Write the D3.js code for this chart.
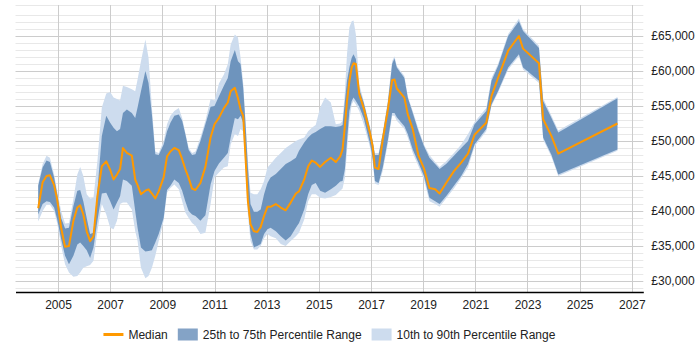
<!DOCTYPE html>
<html>
<head>
<meta charset="utf-8">
<script src="https://cdnjs.cloudflare.com/ajax/libs/d3/7.8.5/d3.min.js"></script>
<style>
	body { margin: 0; background: #fff; }
	text { font-family: "Liberation Sans", Arial, sans-serif; }
</style>
</head>
<body>
<script>
// decimal years of each sample
var years = [
	2004.24, 2004.41, 2004.56, 2004.69, 2004.85, 2004.97, 2005.12, 2005.27, 2005.42, 2005.59,
	2005.74, 2005.85, 2005.97, 2006.10, 2006.23, 2006.36, 2006.51, 2006.68, 2006.85, 2007.00,
	2007.13, 2007.26, 2007.38, 2007.49, 2007.64, 2007.83, 2007.96, 2008.05, 2008.18, 2008.35,
	2008.47, 2008.60, 2008.73, 2008.86, 2009.05, 2009.18, 2009.31, 2009.46, 2009.63, 2009.76,
	2009.88, 2010.01, 2010.14, 2010.27, 2010.46, 2010.65, 2010.85, 2011.00, 2011.17, 2011.36,
	2011.51, 2011.62, 2011.78, 2011.90,
	2012.00, 2012.10, 2012.19, 2012.28, 2012.38, 2012.51, 2012.64, 2012.77, 2012.90, 2013.03,
	2013.15, 2013.35, 2013.54, 2013.73, 2013.92, 2014.12, 2014.24, 2014.44, 2014.59, 2014.73,
	2014.88, 2015.05, 2015.24, 2015.46, 2015.65, 2015.82, 2015.91, 2016.00, 2016.08, 2016.17,
	2016.26, 2016.33, 2016.42, 2016.55, 2016.72, 2016.97, 2017.06, 2017.15, 2017.29, 2017.45,
	2017.64, 2017.81, 2017.90, 2017.99, 2018.28, 2018.41, 2018.60, 2018.82, 2019.03, 2019.24,
	2019.46, 2019.63, 2019.88, 2020.18, 2020.46, 2020.72,
	2020.97, 2021.42, 2021.62, 2021.87, 2022.26, 2022.67, 2022.83, 2023.44, 2023.60, 2023.92,
	2024.18, 2026.45
];

var median = [
	40400, 44100, 45000, 45100, 43700, 41600, 37600, 34900, 35000, 38600,
	40500, 40800, 39500, 37100, 35700, 36400, 42100, 46400, 47100, 45900,
	44500, 45200, 46000, 49000, 48300, 47900, 44500, 43700, 42400, 42900,
	43100, 42500, 41800, 42800, 44800, 47800, 48500, 49000, 48700, 47400,
	46000, 44700, 43200, 43000, 44000, 46300, 50500, 52400, 53300, 54700,
	55500, 57100, 57600, 56100,
	54500, 53600, 47600, 41400, 38100, 37100, 37000, 37700, 39300, 40600,
	40600, 41000, 40500, 40100, 41200, 42500, 42800, 44500, 46400, 47200,
	46900, 46300, 47000, 47600, 47000, 47800, 48800, 52200, 55700, 58500,
	60500, 61100, 61000, 56700, 54700, 51000, 49300, 46200, 46000, 50200,
	54300, 58700, 58800, 57500, 56200, 53800, 51700, 47900, 46100, 43300,
	43100, 42500, 44000, 45700, 46900, 48200,
	50900, 52600, 56400, 59000, 62900, 65000, 63200, 61100, 53100, 50700,
	48200, 52500
];

var p25 = [
	39500, 41000, 41400, 41300, 40500, 38800, 36000, 33600, 32400, 33600,
	35200, 35500, 35000, 34400, 33300, 34800, 38600, 42500, 42600, 41400,
	40200, 41200, 42100, 44500, 44300, 43600, 40000, 37600, 34800, 34200,
	34300, 34400, 35500, 36700, 39000, 43000, 43600, 44500, 44000, 42900,
	41400, 40000, 39500, 39300, 38600, 39400, 43800, 45700, 46800, 47600,
	48300, 50500, 53300, 53100,
	53600, 52600, 46900, 40900, 36700, 34800, 35000, 35300, 36700, 37400,
	37600, 37100, 36400, 35800, 36400, 37600, 38300, 40200, 42400, 43700,
	44000, 42900, 42600, 43100, 43600, 44200, 44300, 46000, 50000, 54300,
	55700, 56200, 55700, 54900, 53300, 49500, 47600, 44300, 44000, 46200,
	50000, 54000, 54000, 53400, 52100, 51000, 48800, 46900, 45000, 41900,
	41400, 41000, 42100, 43600, 45000, 46700,
	49500, 51700, 55200, 57100, 60500, 62400, 60500, 58600, 50500, 48000,
	45200, 48800
];

var p75 = [
	43600, 46200, 47200, 47000, 44800, 42400, 39000, 37500, 37600, 40700,
	42900, 43000, 41400, 39000, 36700, 36900, 42900, 50700, 53600, 52600,
	51900, 51400, 51700, 54000, 54500, 54000, 53300, 54800, 57100, 60000,
	58300, 53800, 48100, 48000, 49500, 51400, 52600, 53600, 53800, 52900,
	51000, 48700, 48000, 48100, 50000, 52400, 54900, 55000, 56400, 57900,
	59000, 61400, 63000, 61400,
	61000, 57600, 52400, 46200, 41000, 39900, 39900, 40200, 42400, 44000,
	44800, 45300, 46000, 46700, 47100, 47600, 48600, 49800, 50500, 51000,
	51300, 51700, 52100, 52100, 52000, 52100, 52300, 55700, 58600, 60500,
	61900, 62400, 61700, 57400, 55500, 51700, 50000, 48000, 48000, 51000,
	55200, 61000, 61800, 60500, 59000, 56200, 54000, 51400, 49300, 47600,
	46700, 46000, 46700, 47900, 49000, 50000,
	52400, 54300, 58600, 60700, 65000, 67100, 65700, 63300, 55700, 53300,
	51200, 56100
];

var p10 = [
	38500, 40000, 40900, 40900, 40000, 38200, 35000, 32400, 31200, 30600,
	30700, 31200, 31900, 32100, 32300, 32900, 37100, 41000, 39500, 37600,
	37400, 38600, 41000, 41200, 41200, 40200, 37100, 35700, 31900, 30400,
	30700, 31900, 33600, 35700, 38600, 42600, 43300, 43800, 43100, 41400,
	39800, 39000, 38300, 37900, 36700, 36900, 41000, 44800, 45500, 46200,
	46400, 49500, 51000, 50700,
	51700, 51400, 45700, 39500, 35700, 34500, 34500, 35000, 36100, 36700,
	36400, 36100, 35300, 35000, 35700, 36400, 36900, 38800, 41400, 42400,
	42400, 41900, 41800, 42000, 42300, 42900, 43200, 44800, 48600, 52900,
	55200, 55700, 55200, 54300, 52400, 49000, 47100, 43900, 43700, 45700,
	49500, 53600, 53600, 52900, 51700, 50500, 48300, 46400, 44500, 41400,
	41000, 40600, 41800, 43200, 44700, 46200,
	49200, 51400, 55000, 56900, 60200, 62100, 60200, 58300, 50200, 47700,
	45000, 48600
];

var p90 = [
	43900, 46700, 47900, 47600, 45200, 42900, 40000, 38200, 38300, 41700,
	45200, 46300, 45000, 42400, 41800, 41900, 47100, 54800, 56800, 57000,
	56200, 56000, 55800, 57900, 57700, 57400, 57100, 58800, 61400, 64500,
	61900, 54800, 48500, 48300, 50000, 52400, 53600, 54300, 54700, 53300,
	51200, 49000, 48300, 48500, 50500, 52900, 56000, 55800, 58200, 59500,
	61000, 63800, 65200, 64800,
	61900, 58300, 52900, 47100, 42600, 42400, 42400, 43100, 44300, 46200,
	46700, 47600, 48300, 49000, 49500, 50000, 50200, 50500, 51400, 51900,
	52300, 54800, 56200, 55500, 52400, 52500, 52900, 57100, 62400, 66200,
	67100, 67200, 65200, 58100, 55700, 51900, 50200, 48300, 48300, 51200,
	55700, 61400, 62100, 60700, 59300, 56400, 54300, 51700, 49500, 48000,
	47000, 46300, 47100, 48300, 49500, 51000,
	52700, 54700, 59000, 61000, 65300, 67500, 66000, 63600, 56100, 53600,
	51500, 56300
];

var xTicks = [2005, 2007, 2009, 2011, 2013, 2015, 2017, 2019, 2021, 2023, 2025, 2027];
var yTicks = [30000, 35000, 40000, 45000, 50000, 55000, 60000, 65000];
var legendLabels = ["Median", "25th to 75th Percentile Range", "10th to 90th Percentile Range"];

var width = 700, height = 350;
var plot = { left: 15.5, right: 643.3, top: 5, bottom: 292 };

var data = years.map(function (d, i) {
	return { year: d, med: median[i], p25: p25[i], p75: p75[i], p10: p10[i], p90: p90[i] };
});

var x = d3.scaleLinear()
	.domain([2003.37, 2027.44])
	.range([plot.left, plot.right]);

var y = d3.scaleLinear()
	.domain([28430, 69430])
	.range([plot.bottom, plot.top]);

var svg = d3.select("body").append("svg")
	.attr("width", width)
	.attr("height", height);

// horizontal grid: minor every 1000, darker every 5000
var gridVals = d3.range(29000, 69000, 1000);
svg.append("g").selectAll("line")
	.data(gridVals)
	.enter().append("line")
	.attr("x1", plot.left).attr("x2", plot.right)
	.attr("y1", function (d) { return Math.round(y(d)) + 0.5; })
	.attr("y2", function (d) { return Math.round(y(d)) + 0.5; })
	.attr("stroke", function (d) { return d % 5000 === 0 ? "#cccccc" : "#e8e8e8"; })
	.attr("stroke-width", 1);

svg.append("line")
	.attr("x1", plot.left).attr("x2", plot.right)
	.attr("y1", plot.top + 0.5).attr("y2", plot.top + 0.5)
	.attr("stroke", "#e8e8e8");

// vertical grid
svg.append("g").selectAll("line")
	.data(xTicks)
	.enter().append("line")
	.attr("x1", function (d) { return Math.round(x(d)) + 0.5; })
	.attr("x2", function (d) { return Math.round(x(d)) + 0.5; })
	.attr("y1", plot.top).attr("y2", plot.bottom)
	.attr("stroke", "#cccccc");

// bands
var band = function (lo, hi) {
	return d3.area()
		.x(function (d) { return x(d.year); })
		.y0(function (d) { return y(d[lo]); })
		.y1(function (d) { return y(d[hi]); });
};

svg.append("path")
	.datum(data)
	.attr("d", band("p10", "p90"))
	.attr("fill", "#cddcee");

svg.append("path")
	.datum(data)
	.attr("d", band("p25", "p75"))
	.attr("fill", "#4a78ab")
	.attr("fill-opacity", 0.72);

var line = d3.line()
	.x(function (d) { return x(d.year); })
	.y(function (d) { return y(d.med); });

svg.append("path")
	.datum(data)
	.attr("d", line)
	.attr("fill", "none")
	.attr("stroke", "#ff9900")
	.attr("stroke-width", 2)
	.attr("stroke-linejoin", "round");

// x axis
var xAxis = svg.append("g")
	.attr("transform", "translate(0," + plot.bottom + ")")
	.call(d3.axisBottom(x).tickValues(xTicks).tickSize(0).tickSizeOuter(0).tickPadding(8).tickFormat(d3.format("d")));
xAxis.select(".domain").attr("stroke", "#000").attr("stroke-width", 1.5);
xAxis.selectAll("text").attr("font-size", "12px").attr("fill", "#222")
	.style("font-family", "'Liberation Sans', Arial, sans-serif");

// y axis on right
var yAxis = svg.append("g")
	.attr("transform", "translate(" + plot.right + ",0)")
	.call(d3.axisRight(y).tickValues(yTicks).tickSize(0).tickPadding(8)
		.tickFormat(function (d) { return "£" + d3.format(",")(d); }));
yAxis.select(".domain").remove();
yAxis.selectAll("text").attr("font-size", "12px").attr("fill", "#222")
	.style("font-family", "'Liberation Sans', Arial, sans-serif");

// legend
var legend = svg.append("g");
var ly = 334.5;
var items = [];
legendLabels.forEach(function (lab, i) {
	var g = legend.append("g");
	if (i === 0) {
		g.append("line").attr("x1", 0).attr("x2", 20).attr("y1", 0).attr("y2", 0)
			.attr("stroke", "#ff9900").attr("stroke-width", 3);
	} else {
		g.append("rect").attr("x", 0).attr("y", -6).attr("width", 20).attr("height", 12)
			.attr("fill", i === 1 ? "#4a78ab" : "#cddcee")
			.attr("fill-opacity", i === 1 ? 0.68 : 1);
	}
	var t = g.append("text").attr("x", 25).attr("y", 4.5)
		.attr("font-size", "12px").attr("fill", "#222").text(lab);
	items.push({ g: g, w: 25 + t.node().getComputedTextLength() });
});
var gap = 10;
var total = d3.sum(items, function (d) { return d.w; }) + gap * (items.length - 1);
var lx = (plot.left + plot.right) / 2 - total / 2;
items.forEach(function (it) {
	it.g.attr("transform", "translate(" + lx + "," + ly + ")");
	lx += it.w + gap;
});
</script>
</body>
</html>
